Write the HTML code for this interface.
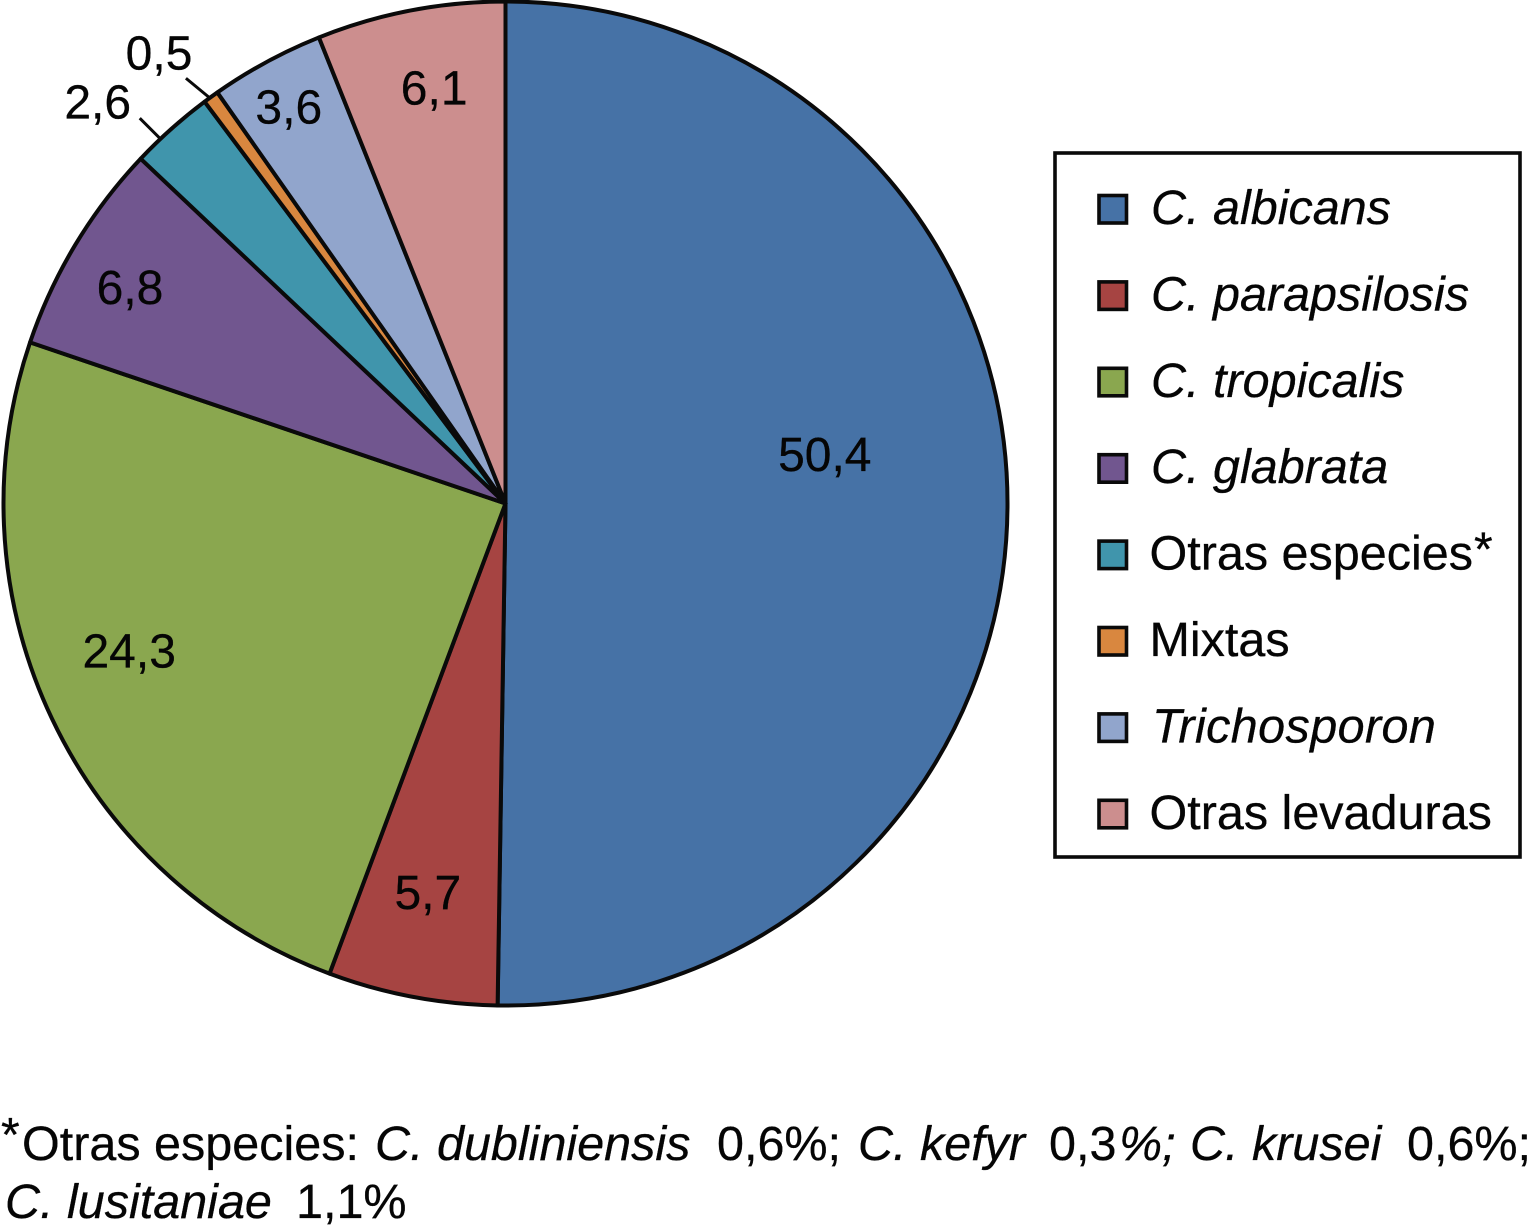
<!DOCTYPE html>
<html lang="es">
<head>
<meta charset="utf-8">
<title>Distribución de especies</title>
<style>
  html, body { margin: 0; padding: 0; background: #fff; }
  svg { display: block; }
  text { font-family: "Liberation Sans", sans-serif; font-size: 48px; fill: #050505; stroke: #050505; stroke-width: 0.3px; }
  .it { font-style: italic; }
  .wide { font-size: 48.5px; }
</style>
</head>
<body>
<svg id="chart" xmlns="http://www.w3.org/2000/svg" width="1530" height="1229" viewBox="0 0 1530 1229">
  <rect x="0" y="0" width="1530" height="1229" fill="#ffffff"/>
  <g id="pie"></g>
  <g id="labels"></g>

  <g>
    <rect x="1055" y="153" width="465" height="704" fill="#fff" stroke="#0a0a0a" stroke-width="3.6"/>
    <g id="legend-items"></g>
  </g>

  <g>
    <text x="1" y="1151">*</text>
    <text class="wide" y="1160">
      <tspan x="22">Otras especies:</tspan>
      <tspan x="375" class="it">C. dubliniensis</tspan>
      <tspan x="717">0,6%;</tspan>
      <tspan x="858" class="it">C. kefyr</tspan>
      <tspan x="1049">0,3</tspan><tspan x="1119" class="it">%;</tspan>
      <tspan x="1190" class="it">C. krusei</tspan>
      <tspan x="1407">0,6%;</tspan>
    </text>
    <text class="wide" y="1218">
      <tspan x="5" class="it">C. lusitaniae</tspan>
      <tspan x="296">1,1%</tspan>
    </text>
  </g>
</svg>
<script>
const categories = ["C. albicans", "C. parapsilosis", "C. tropicalis", "C. glabrata", "Otras especies", "Mixtas", "Trichosporon", "Otras levaduras"];
const seriesValues = [50.25, 5.45, 24.5, 6.85, 2.72, 0.5, 3.67, 6.06];
const printedValues = ["50,4", "5,7", "24,3", "6,8", "2,6", "0,5", "3,6", "6,1"];
const italicCategories = [true, true, true, true, false, false, true, false];

const sliceColors = ["#4672a6", "#a64442", "#8aa74f", "#71568f", "#4095ac", "#d9873f", "#91a5cc", "#cc8e8e"];
const labelNudges = [[-7,-52],[-17,68],[-81.5,7],[-96,-48],[-190.6,-158.3],[-155,-187],[-61.4,-109.9],[-9.6,-95.6]];
const leaderSpecs = { 4: { shift: -1.7, dx: -20, dy: -20 }, 5: { shift: -0.2, dx: -23, dy: -19 } };

const NS = "http://www.w3.org/2000/svg";
const cx = 505.5, cy = 503.5, R = 502;
const total = seriesValues.reduce((a, b) => a + b, 0);
const angleOf = v => v / total * 360;
const polar = (deg, r) => {
  const t = deg * Math.PI / 180;
  return [cx + r * Math.sin(t), cy - r * Math.cos(t)];
};

const pie = document.getElementById("pie");
const labels = document.getElementById("labels");
const legendItems = document.getElementById("legend-items");

let cum = 0;
seriesValues.forEach((v, i) => {
  const a0 = cum, a1 = cum + angleOf(v), mid = (a0 + a1) / 2;
  cum = a1;
  const p0 = polar(a0, R), p1 = polar(a1, R);
  const large = a1 - a0 > 180 ? 1 : 0;

  const path = document.createElementNS(NS, "path");
  path.setAttribute("d", `M${cx},${cy} L${p0[0]},${p0[1]} A${R},${R} 0 ${large} 1 ${p1[0]},${p1[1]} Z`);
  path.setAttribute("fill", sliceColors[i]);
  path.setAttribute("stroke", "#0a0a0a");
  path.setAttribute("stroke-width", "4");
  path.setAttribute("stroke-linejoin", "round");
  
  
  pie.appendChild(path);

  const anchor = polar(mid, R * 0.65);
  const nudge = labelNudges[i];
  const label = document.createElementNS(NS, "text");
  label.setAttribute("x", anchor[0] + nudge[0]);
  label.setAttribute("y", anchor[1] + nudge[1] + 17);
  label.setAttribute("text-anchor", "middle");
  label.textContent = printedValues[i];
  
  
  labels.appendChild(label);

  if (leaderSpecs[i]) {
    const spec = leaderSpecs[i];
    const edge = polar(mid + spec.shift, R + 1);
    const line = document.createElementNS(NS, "line");
    line.setAttribute("x1", edge[0]);
    line.setAttribute("y1", edge[1]);
    line.setAttribute("x2", edge[0] + spec.dx);
    line.setAttribute("y2", edge[1] + spec.dy);
    line.setAttribute("stroke", "#0a0a0a");
    line.setAttribute("stroke-width", "3");
    
    
    labels.appendChild(line);
  }

  const rowTop = 194 + 86.4 * i;
  const swatch = document.createElementNS(NS, "rect");
  swatch.setAttribute("x", 1099);
  swatch.setAttribute("y", rowTop + 1.5);
  swatch.setAttribute("width", 27.5);
  swatch.setAttribute("height", 27.5);
  swatch.setAttribute("fill", sliceColors[i]);
  swatch.setAttribute("stroke", "#0a0a0a");
  swatch.setAttribute("stroke-width", "3.6");
  
  
  legendItems.appendChild(swatch);

  const entry = document.createElementNS(NS, "text");
  entry.setAttribute("x", i === 6 ? 1152 : (italicCategories[i] ? 1151 : 1149.5));
  entry.setAttribute("y", rowTop + 30);
  entry.setAttribute("class", italicCategories[i] ? "wide it" : "wide");
  if (i === 6) entry.setAttribute("letter-spacing", "0.4");
  entry.textContent = categories[i];
  
  
  legendItems.appendChild(entry);

  if (i === 4) {
    const star = document.createElementNS(NS, "text");
    star.setAttribute("x", 1474);
    star.setAttribute("y", rowTop + 26);
    star.textContent = "*";
    
    
    legendItems.appendChild(star);
  }
});
</script>
</body>
</html>
